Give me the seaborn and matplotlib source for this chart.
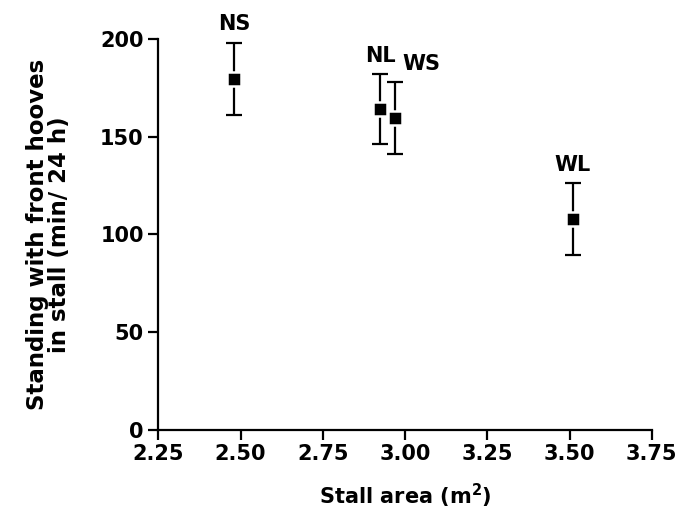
import matplotlib
matplotlib.use("Agg")
import matplotlib.pyplot as plt
import seaborn as sns
import pandas as pd

groups = ["NS", "NL", "WS", "WL"]
stall_area = [2.48, 2.925, 2.97, 3.51]
standing_mean = [179.7, 164.2, 159.5, 107.7]
standing_err = [18.5, 18.0, 18.4, 18.4]
label_dx = [0, 0, 19, 0]  # label offsets in points

x_ticks = [2.25, 2.50, 2.75, 3.00, 3.25, 3.50, 3.75]
y_ticks = [0, 50, 100, 150, 200]

df = pd.DataFrame({"group": groups, "area": stall_area,
                   "mean": standing_mean, "err": standing_err})

sns.set_theme(style="ticks")
plt.rcParams["font.family"] = ["DejaVu Sans"]
plt.rcParams["font.weight"] = "bold"
plt.rcParams["mathtext.default"] = "bf"
plt.rcParams["text.color"] = "black"
plt.rcParams["axes.labelcolor"] = "black"

FS = 15

fig = plt.figure(figsize=(6.94, 5.16), dpi=100)
ax = fig.add_axes([0.2281, 0.1676, 0.9392 - 0.2281, 0.9238 - 0.1676])

ax.errorbar(df["area"], df["mean"], yerr=df["err"], fmt="none",
            ecolor="black", elinewidth=1.6, capsize=5.8, capthick=1.6, zorder=2)
sns.scatterplot(data=df, x="area", y="mean", marker="s", s=100,
                color="black", edgecolor="white", linewidth=1.8, ax=ax,
                zorder=3, legend=False)

for g, x, m, e, dx in zip(groups, stall_area, standing_mean, standing_err, label_dx):
    ax.annotate(g, (x, m + e), xytext=(dx, 6), textcoords="offset points",
                ha="center", va="bottom", fontsize=FS, fontweight="bold",
                color="black", annotation_clip=False)

ax.set_xlim(2.25, 3.75)
ax.set_ylim(0, 200)
ax.set_xticks(x_ticks)
ax.set_xticklabels([f"{t:.2f}" for t in x_ticks])
ax.set_yticks(y_ticks)
ax.set_yticklabels([str(t) for t in y_ticks])

for s in ["top", "right"]:
    ax.spines[s].set_visible(False)
for s in ["left", "bottom"]:
    ax.spines[s].set_linewidth(1.6)
    ax.spines[s].set_color("black")

ax.tick_params(axis="both", direction="out", length=7, width=1.6,
               labelsize=FS, colors="black", pad=3.5)
for lab in ax.get_xticklabels() + ax.get_yticklabels():
    lab.set_fontweight("bold")

ax.set_xlabel("Stall area (m$^2$)", fontsize=FS, fontweight="bold",
              labelpad=13, color="black")
ax.set_ylabel("Standing with front hooves\nin stall (min/ 24 h)", fontsize=16.5,
              fontweight="bold", labelpad=21, linespacing=0.95, color="black")

fig.savefig("out.png", dpi=100, facecolor="white")
